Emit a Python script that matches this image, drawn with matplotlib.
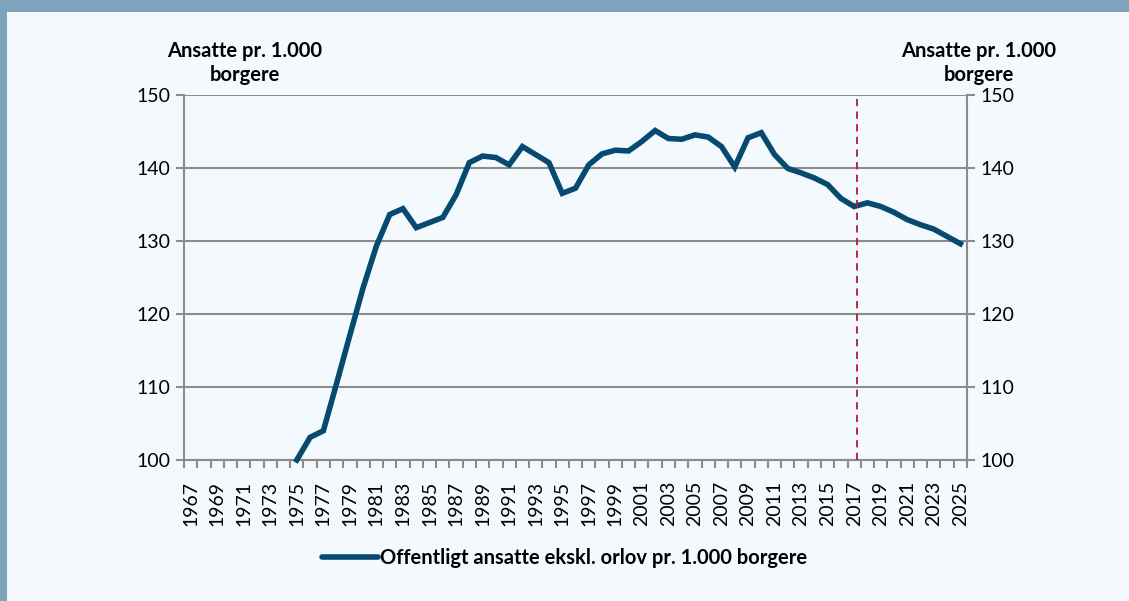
import numpy as np
import matplotlib
matplotlib.use("Agg")
import matplotlib.pyplot as plt
from matplotlib.patches import Rectangle

plt.rcParams['font.family'] = ['Lato', 'DejaVu Sans']

# Data
years = list(range(1967, 2026))
values = [np.nan, np.nan, np.nan, np.nan, np.nan, np.nan, np.nan, np.nan,   # 1967-1974
          100.0, 103.1, 104.0, 110.5, 117.1, 123.6, 129.3, 133.6, 134.4,   # 1975-1983
          131.8, 132.5, 133.2, 136.3, 140.7, 141.6, 141.4, 140.4, 142.9,   # 1984-1992
          141.8, 140.7, 136.5, 137.2, 140.4, 141.9, 142.4, 142.3, 143.6,   # 1993-2001
          145.1, 144.0, 143.9, 144.5, 144.2, 142.9, 140.1, 144.1, 144.8,   # 2002-2010
          141.8, 139.9, 139.3, 138.6, 137.7, 135.8, 134.7, 135.2, 134.7,   # 2011-2019
          133.9, 132.9, 132.2, 131.6, 130.6, 129.6]                        # 2020-2025
series_label = "Offentligt ansatte ekskl. orlov pr. 1.000 borgere"
axis_title = "Ansatte pr. 1.000\nborgere"
yticks = [100, 110, 120, 130, 140, 150]
split_year = 2017.2

bg = "#f4f9fe"
frame = "#7ea4bd"
line_col = "#074a70"
grid_col = "#8c8c8c"

fig = plt.figure(figsize=(11.29, 6.01), dpi=100, facecolor=bg)

# frame: top bar and left border
fig.patches.append(Rectangle((0, 1 - 12 / 601), 1, 12 / 601, transform=fig.transFigure,
                             facecolor=frame, edgecolor="none", zorder=0))
fig.patches.append(Rectangle((0, 0), 7 / 1129, 1, transform=fig.transFigure,
                             facecolor=frame, edgecolor="none", zorder=0))

ax = fig.add_axes([184 / 1129, 1 - 460 / 601, (967 - 184) / 1129, (460 - 94.7) / 601])
ax.set_facecolor(bg)

x = np.arange(len(years))
ax.plot(x, values, color=line_col, lw=4.0, solid_joinstyle="miter", zorder=3, clip_on=False)

xs = years.index(2017) + (split_year - 2017)
ax.axvline(xs, color="#b01c2e", lw=1.3, ls=(0, (4, 3)), zorder=4)

ax.set_xlim(-0.5, len(years) - 0.5)
ax.set_ylim(100, 150)
ax.set_yticks(yticks)
ax.yaxis.grid(True, color=grid_col, lw=1.5)
ax.set_axisbelow(True)

ax.set_xticks(x[::2])
ax.set_xticklabels([str(y) for y in years[::2]], rotation=90)
ax.set_xticks(np.arange(len(years) + 1) - 0.5, minor=True)
ax.tick_params(axis="x", which="major", length=0, pad=15, labelsize=14)
ax.tick_params(axis="x", which="minor", length=6, width=1.5, color=grid_col)
ax.tick_params(axis="y", length=6, width=1.5, color=grid_col, labelsize=14,
               right=True, labelright=True, pad=4)

for s in ["left", "right", "bottom"]:
    ax.spines[s].set_color(grid_col)
    ax.spines[s].set_linewidth(1.5)
ax.spines["top"].set_visible(False)

fig.text(245 / 1129, 1 - 63 / 601, axis_title, ha="center", va="center",
         fontsize=14.5, fontweight="bold", linespacing=1.3)
fig.text(979 / 1129, 1 - 63 / 601, axis_title, ha="center", va="center",
         fontsize=14.5, fontweight="bold", linespacing=1.3)

leg = ax.legend([series_label], loc="center", bbox_to_anchor=(0.5, 1 - 558 / 601),
                bbox_transform=fig.transFigure, frameon=False, handlelength=2.8,
                handletextpad=0.1, prop={"weight": "bold", "size": 14.5})
for h in leg.get_lines():
    h.set_solid_capstyle("round")

fig.savefig("out.png", dpi=100, facecolor=bg)
